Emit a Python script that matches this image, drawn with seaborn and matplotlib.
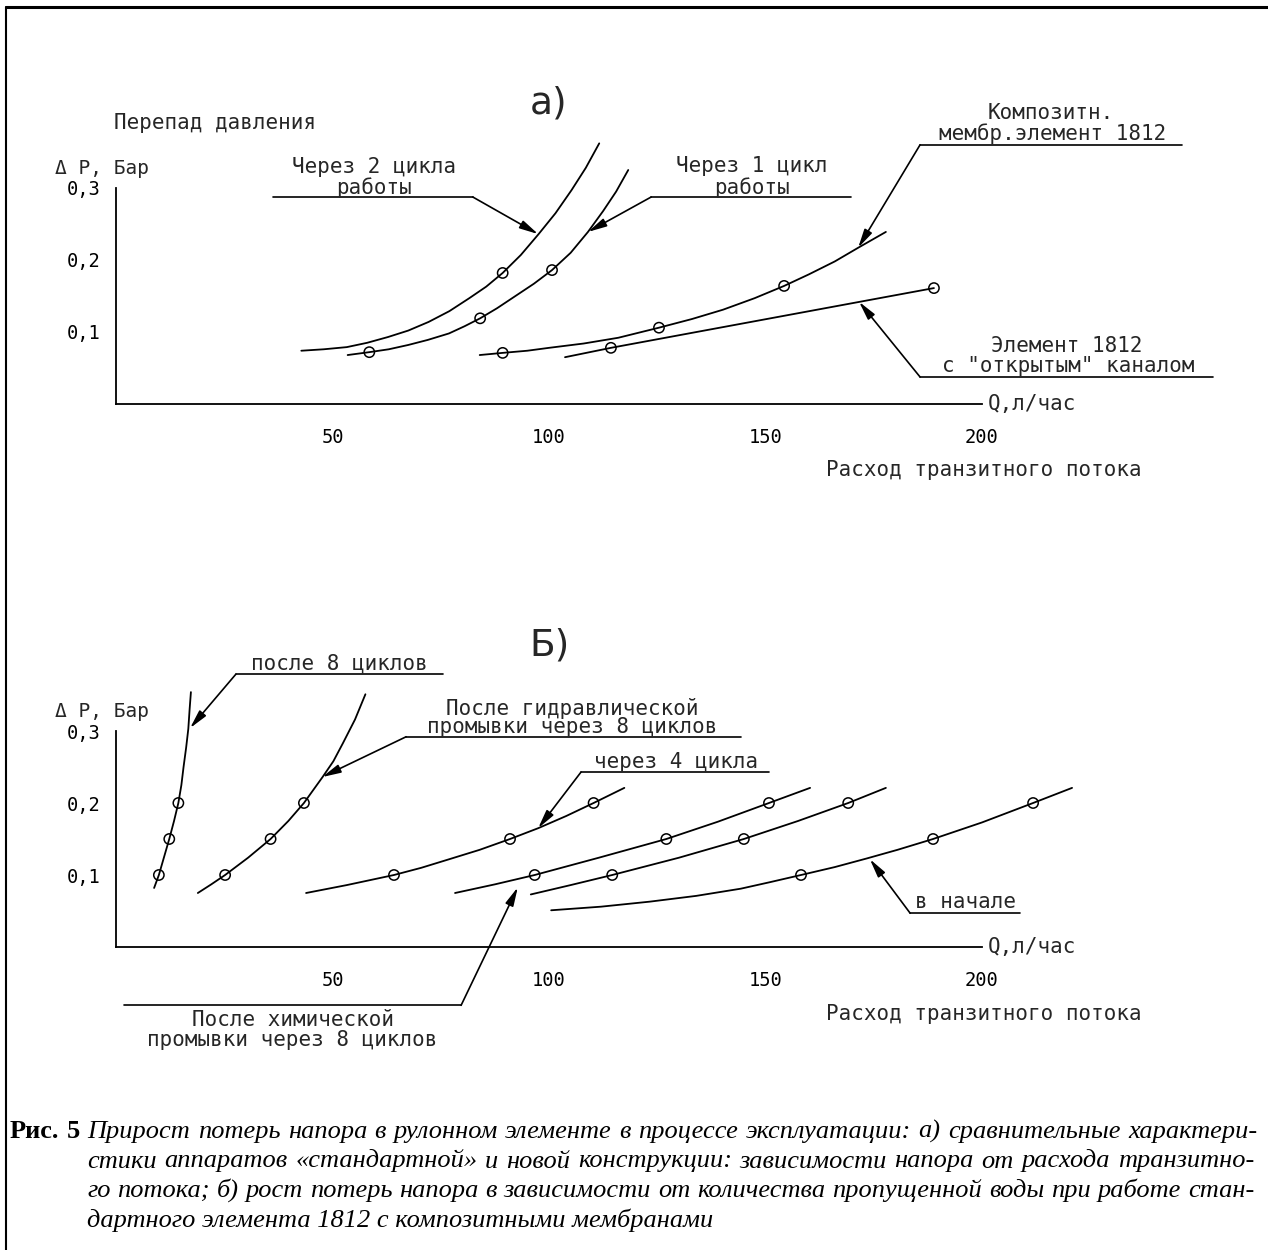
import matplotlib
matplotlib.use("Agg")
import matplotlib.pyplot as plt
from matplotlib.lines import Line2D
import seaborn as sns

# ── Данные: а) перепад давления от расхода ─────────────
a_cyc2_q = [42.8, 48.0, 53.3, 58.0, 62.8, 67.5, 72.2, 77.0, 81.6, 85.5, 89.3,
            93.5, 97.6, 101.5, 105.2, 108.5, 111.6]
a_cyc2_p = [0.074, 0.076, 0.079, 0.085, 0.093, 0.102, 0.114, 0.129, 0.147, 0.163, 0.182,
            0.207, 0.236, 0.265, 0.297, 0.328, 0.362]
a_cyc2_mq = [89.3]
a_cyc2_mp = [0.182]

a_cyc1_q = [53.5, 58.5, 63.0, 67.5, 72.0, 76.9, 80.5, 84.1, 88.0, 92.0, 96.5,
            100.7, 105.0, 109.0, 112.5, 115.5, 118.3]
a_cyc1_p = [0.068, 0.072, 0.076, 0.082, 0.089, 0.098, 0.108, 0.119, 0.133, 0.149, 0.167,
            0.186, 0.210, 0.239, 0.268, 0.295, 0.325]
a_cyc1_mq = [58.5, 84.1, 100.7]
a_cyc1_mp = [0.072, 0.119, 0.186]

a_comp_q = [84.0, 89.3, 95.0, 100.0, 108.0, 116.0, 125.4, 133.0, 140.2, 147.5,
            154.3, 160.0, 166.0, 171.4, 177.8]
a_comp_p = [0.068, 0.071, 0.074, 0.078, 0.084, 0.092, 0.106, 0.118, 0.131, 0.147,
            0.164, 0.180, 0.198, 0.217, 0.239]
a_comp_mq = [89.3, 125.4, 154.3]
a_comp_mp = [0.071, 0.106, 0.164]

a_open_q = [103.7, 114.3, 188.9]
a_open_p = [0.065, 0.078, 0.161]
a_open_mq = [114.3, 188.9]
a_open_mp = [0.078, 0.161]

# ── Данные: б) рост потерь напора ──────────────────────
b_cyc8_q = [8.8, 9.9, 11.1, 12.3, 13.4, 14.4, 15.1, 15.6, 16.2, 16.7, 17.0, 17.3]
b_cyc8_p = [0.082, 0.10, 0.125, 0.15, 0.175, 0.20, 0.225, 0.25, 0.277, 0.303, 0.33, 0.354]
b_cyc8_mq = [9.9, 12.3, 14.4]

b_hydr_q = [18.9, 22.0, 25.2, 30.5, 35.7, 39.8, 43.4, 47.7, 50.2, 52.4, 55.2, 57.6]
b_hydr_p = [0.075, 0.087, 0.10, 0.124, 0.15, 0.175, 0.20, 0.236, 0.258, 0.283, 0.316, 0.351]
b_hydr_mq = [25.2, 35.7, 43.4]

b_cyc4_q = [43.9, 53.3, 64.2, 70.5, 77.0, 84.0, 91.0, 97.5, 104.0, 110.3, 117.4]
b_cyc4_p = [0.075, 0.086, 0.10, 0.110, 0.122, 0.135, 0.15, 0.165, 0.182, 0.20, 0.221]
b_cyc4_mq = [64.2, 91.0, 110.3]

b_chem_q = [78.3, 87.5, 96.7, 111.5, 127.1, 139.0, 150.8, 160.3]
b_chem_p = [0.075, 0.087, 0.10, 0.124, 0.15, 0.174, 0.20, 0.221]
b_chem_mq = [96.7, 127.1, 150.8]

b_mid_q = [95.8, 105.0, 114.6, 130.0, 145.0, 157.5, 169.1, 177.8]
b_mid_p = [0.073, 0.086, 0.10, 0.124, 0.15, 0.175, 0.20, 0.221]
b_mid_mq = [114.6, 145.0, 169.1]

b_start_q = [100.5, 112.0, 123.3, 134.0, 144.3, 151.0, 158.2, 166.0, 173.4, 180.5,
             188.7, 200.0, 211.8, 220.8]
b_start_p = [0.051, 0.056, 0.063, 0.071, 0.081, 0.090, 0.10, 0.111, 0.123, 0.135,
             0.15, 0.173, 0.20, 0.221]
b_start_mq = [158.2, 188.7, 211.8]

b_marker_p = [0.10, 0.15, 0.20]

x_ticks = [50, 100, 150, 200]
x_ticklabels = ["50", "100", "150", "200"]
y_ticks = [0.1, 0.2, 0.3]
y_ticklabels = ["0,1", "0,2", "0,3"]

caption = [
    "Прирост потерь напора в рулонном элементе в процессе эксплуатации: а) сравнительные характери-",
    "стики аппаратов «стандартной» и новой конструкции: зависимости напора от расхода транзитно-",
    "го потока; б) рост потерь напора в зависимости от количества пропущенной воды при работе стан-",
    "дартного элемента 1812 с композитными мембранами",
]

# ── Оформление ─────────────────────────────────────────
sns.set_style("white")
plt.rcParams["font.family"] = ["DejaVu Sans Mono", "DejaVu Sans"]

W, H = 1268, 1250
PX_Q = 4.33   # пикселей на 1 л/час
PX_P = 720    # пикселей на 1 бар
FS = 15

fig = plt.figure(figsize=(W / 100, H / 100), dpi=100)
fig.patch.set_facecolor("white")


def make_axes(top_px, bottom_px, x0_px, y0_px):
    ax = fig.add_axes([0, 1 - bottom_px / H, 1, (bottom_px - top_px) / H])
    ax.set_xlim(-x0_px / PX_Q, (W - x0_px) / PX_Q)
    ax.set_ylim((y0_px - bottom_px) / PX_P, (y0_px - top_px) / PX_P)
    ax.patch.set_alpha(0)
    for s in ["top", "right"]:
        ax.spines[s].set_visible(False)
    for s in ["left", "bottom"]:
        ax.spines[s].set_position(("data", 0))
        ax.spines[s].set_color("black")
        ax.spines[s].set_linewidth(1.3)
    ax.spines["left"].set_bounds(0, 0.3)
    ax.spines["bottom"].set_bounds(0, 200)
    ax.set_xticks(x_ticks)
    ax.set_xticklabels(x_ticklabels)
    ax.set_yticks(y_ticks)
    ax.set_yticklabels(y_ticklabels)
    ax.tick_params(axis="both", direction="inout", length=16.5, width=1.2,
                   colors="black", labelsize=13.5)
    ax.tick_params(axis="x", pad=9)
    ax.tick_params(axis="y", pad=3)
    ax.text(-14.1, 0.327, "Δ P, Бар", fontsize=FS - 1, ha="left", va="center")
    ax.text(201.4, 0.0, "Q,л/час", fontsize=FS, ha="left", va="center")
    return ax


def draw_curve(ax, q, p, mq, mp):
    sns.lineplot(x=q, y=p, ax=ax, color="black", lw=1.3, sort=False, estimator=None)
    sns.scatterplot(x=mq, y=mp, ax=ax, marker="o", s=55, facecolor="none",
                    edgecolor="black", linewidth=1.1, zorder=3)


def leader(ax, x0, x1, y, tip, from_left=True):
    ax.plot([x0, x1], [y, y], color="black", lw=1.2)
    start = (x0 if from_left else x1, y)
    ax.annotate("", xy=tip, xytext=start,
                arrowprops=dict(arrowstyle="-|>,head_length=0.7,head_width=0.16",
                                color="black", lw=1.2, shrinkA=0, shrinkB=0,
                                mutation_scale=16))


# ── а) ─────────────────────────────────────────────────
ax_a = make_axes(60, 500, 116, 404)
draw_curve(ax_a, a_cyc2_q, a_cyc2_p, a_cyc2_mq, a_cyc2_mp)
draw_curve(ax_a, a_cyc1_q, a_cyc1_p, a_cyc1_mq, a_cyc1_mp)
draw_curve(ax_a, a_comp_q, a_comp_p, a_comp_mq, a_comp_mp)
draw_curve(ax_a, a_open_q, a_open_p, a_open_mq, a_open_mp)

ax_a.text(100, 0.418, "а)", fontsize=27, family="DejaVu Sans", ha="center", va="center")
ax_a.text(-0.5, 0.390, "Перепад давления", fontsize=FS, ha="left", va="center")
ax_a.text(200.5, -0.092, "Расход транзитного потока", fontsize=FS, ha="center", va="center")

ax_a.text(59.6, 0.329, "Через 2 цикла", fontsize=FS, ha="center", va="center")
ax_a.text(59.6, 0.301, "работы", fontsize=FS, ha="center", va="center")
leader(ax_a, 36.3, 82.4, 0.2875, (97.5, 0.236), from_left=False)

ax_a.text(146.9, 0.331, "Через 1 цикл", fontsize=FS, ha="center", va="center")
ax_a.text(146.9, 0.301, "работы", fontsize=FS, ha="center", va="center")
leader(ax_a, 123.6, 169.7, 0.2875, (109.0, 0.239))

ax_a.text(215.9, 0.404, "Композитн.", fontsize=FS, ha="center", va="center")
ax_a.text(216.2, 0.375, "мембр.элемент 1812", fontsize=FS, ha="center", va="center")
leader(ax_a, 185.7, 246.2, 0.360, (171.4, 0.217))

ax_a.text(219.6, 0.081, "Элемент 1812", fontsize=FS, ha="center", va="center")
ax_a.text(219.9, 0.053, "с \"открытым\" каналом", fontsize=FS, ha="center", va="center")
leader(ax_a, 185.7, 253.3, 0.0375, (171.6, 0.142))

# ── б) ─────────────────────────────────────────────────
ax_b = make_axes(600, 1070, 116, 947)
draw_curve(ax_b, b_cyc8_q, b_cyc8_p, b_cyc8_mq, b_marker_p)
draw_curve(ax_b, b_hydr_q, b_hydr_p, b_hydr_mq, b_marker_p)
draw_curve(ax_b, b_cyc4_q, b_cyc4_p, b_cyc4_mq, b_marker_p)
draw_curve(ax_b, b_chem_q, b_chem_p, b_chem_mq, b_marker_p)
draw_curve(ax_b, b_mid_q, b_mid_p, b_mid_mq, b_marker_p)
draw_curve(ax_b, b_start_q, b_start_p, b_start_mq, b_marker_p)

ax_b.text(100.2, 0.419, "Б)", fontsize=27, family="DejaVu Sans", ha="center", va="center")
ax_b.text(200.5, -0.093, "Расход транзитного потока", fontsize=FS, ha="center", va="center")

ax_b.text(51.6, 0.394, "после 8 циклов", fontsize=FS, ha="center", va="center")
leader(ax_b, 27.7, 75.5, 0.379, (17.1, 0.304))

ax_b.text(105.3, 0.331, "После гидравлической", fontsize=FS, ha="center", va="center")
ax_b.text(105.3, 0.306, "промывки через 8 циклов", fontsize=FS, ha="center", va="center")
leader(ax_b, 67.0, 144.3, 0.292, (47.6, 0.236))

ax_b.text(129.3, 0.257, "через 4 цикла", fontsize=FS, ha="center", va="center")
leader(ax_b, 107.4, 150.8, 0.243, (97.5, 0.165))

ax_b.text(40.9, -0.101, "После химической", fontsize=FS, ha="center", va="center")
ax_b.text(40.6, -0.129, "промывки через 8 циклов", fontsize=FS, ha="center", va="center")
leader(ax_b, 1.8, 79.7, -0.081, (92.8, 0.083), from_left=False)

ax_b.text(196.1, 0.0625, "в начале", fontsize=FS, ha="center", va="center")
leader(ax_b, 183.4, 208.8, 0.047, (174.1, 0.122))

# ── Рамка ──────────────────────────────────────────────
fig.add_artist(Line2D([6 / W, 1], [1 - 7 / H, 1 - 7 / H], transform=fig.transFigure,
                      color="black", lw=2.2))
fig.add_artist(Line2D([6 / W, 6 / W], [0, 1 - 7 / H], transform=fig.transFigure,
                      color="black", lw=1.5))

# ── Подпись (выравнивание по ширине) ───────────────────
renderer = fig.canvas.get_renderer()
cap_it = dict(family="Liberation Serif", style="italic", fontsize=19, color="black")
cap_bd = dict(family="Liberation Serif", weight="bold", fontsize=19, color="black")


def justify(tokens, x0, x1, y_base):
    arts = [fig.text(0, 1 - y_base / H, w, va="baseline", ha="left", **props)
            for w, props in tokens]
    widths = [a.get_window_extent(renderer).width for a in arts]
    gap = (x1 - x0 - sum(widths)) / (len(arts) - 1)
    x = x0
    for a, wd in zip(arts, widths):
        a.set_x(x / W)
        x += wd + gap


line1 = [("Рис.", cap_bd), ("5", cap_bd)] + [(w, cap_it) for w in caption[0].split()]
justify(line1, 10, 1257, 1138)
justify([(w, cap_it) for w in caption[1].split()], 87, 1254, 1167.5)
justify([(w, cap_it) for w in caption[2].split()], 87, 1254, 1197)
fig.text(87 / W, 1 - 1226.5 / H, caption[3], va="baseline", ha="left", **cap_it)

fig.savefig("out.png", dpi=100, facecolor="white")
